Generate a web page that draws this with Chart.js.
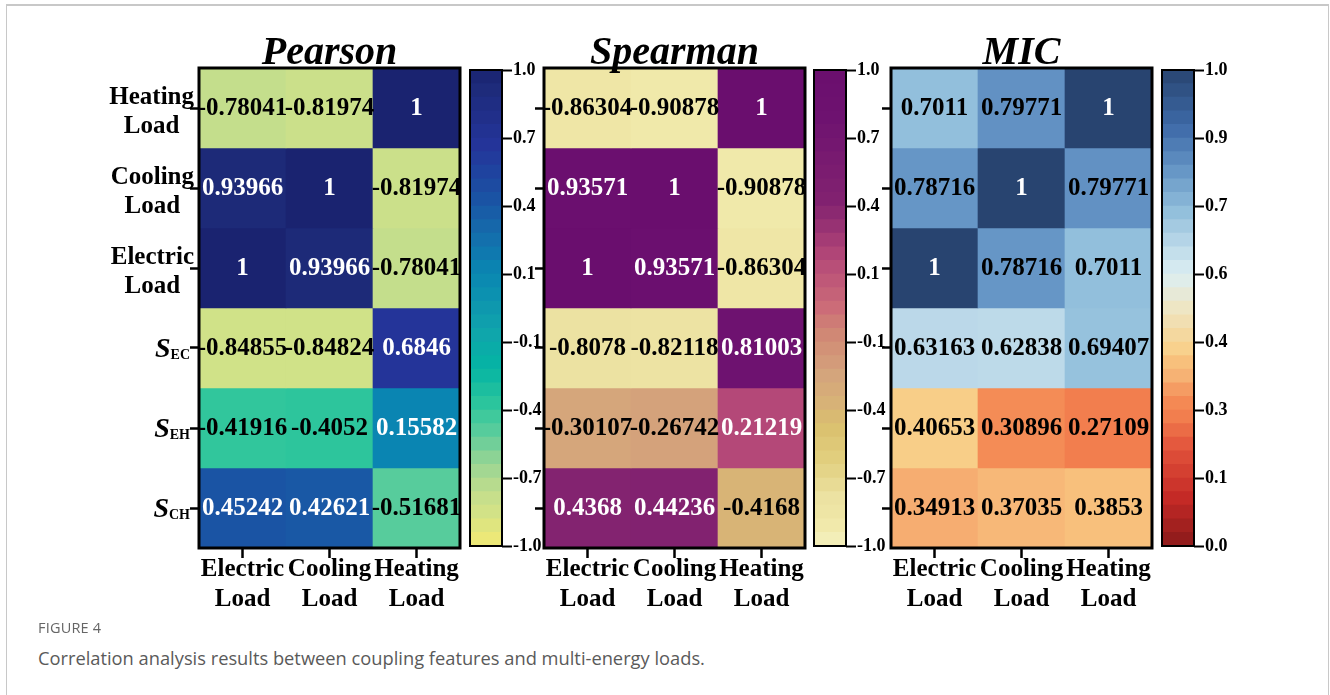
<!DOCTYPE html>
<html>
<head>
<meta charset="utf-8">
<title>Correlation analysis</title>
<script src="https://cdn.jsdelivr.net/npm/chart.js@4.4.1/dist/chart.umd.min.js"></script>
<style>
  html, body { margin: 0; padding: 0; background: #fff; }
  body { width: 1330px; height: 695px; position: relative; overflow: hidden; font-family: "Open Sans", sans-serif; }
  .frame { position: absolute; left: 6px; top: 4px; width: 1321px; height: 720px; border: 1px solid #c8c8c8; border-top-width: 2px; }
  canvas { position: absolute; top: 0; }
  .fig { position: absolute; left: 38px; top: 618px; font-size: 14.5px; color: #666; letter-spacing: 0.2px; }
  .cap { position: absolute; left: 38px; top: 645px; font-size: 18.3px; color: #5a5a5a; }
</style>
</head>
<body>
<div class="frame"></div>
<canvas id="pearsonBar" width="100" height="600" style="left:465px"></canvas>
<canvas id="spearmanBar" width="100" height="600" style="left:809px"></canvas>
<canvas id="micBar" width="100" height="600" style="left:1157px"></canvas>
<canvas id="pearson" width="465" height="620" style="left:0px"></canvas>
<canvas id="spearman" width="290" height="620" style="left:520px"></canvas>
<canvas id="mic" width="287" height="620" style="left:870px"></canvas>
<div class="fig">FIGURE 4</div>
<div class="cap">Correlation analysis results between coupling features and multi-energy loads.</div>

<script>
// Load columns and feature rows (rows listed top to bottom)
const columns = ['Electric Load', 'Cooling Load', 'Heating Load'];
const rows = ['Heating Load', 'Cooling Load', 'Electric Load', 'S_EC', 'S_EH', 'S_CH'];

// Correlation coefficients, one row per feature, columns as above
const pearson = [
  [-0.78041, -0.81974, 1],
  [0.93966, 1, -0.81974],
  [1, 0.93966, -0.78041],
  [-0.84855, -0.84824, 0.6846],
  [-0.41916, -0.4052, 0.15582],
  [0.45242, 0.42621, -0.51681]
];
const spearman = [
  [-0.86304, -0.90878, 1],
  [0.93571, 1, -0.90878],
  [1, 0.93571, -0.86304],
  [-0.8078, -0.82118, 0.81003],
  [-0.30107, -0.26742, 0.21219],
  [0.4368, 0.44236, -0.4168]
];
const mic = [
  [0.7011, 0.79771, 1],
  [0.78716, 1, 0.79771],
  [1, 0.78716, 0.7011],
  [0.63163, 0.62838, 0.69407],
  [0.40653, 0.30896, 0.27109],
  [0.34913, 0.37035, 0.3853]
];

// Colour bar tick labels (bottom to top)
const signedTicks = ['-1.0', '-0.7', '-0.4', '-0.1', '0.1', '0.4', '0.7', '1.0'];
const micTicks = ['0.0', '0.1', '0.3', '0.4', '0.6', '0.7', '0.9', '1.0'];

// Colour maps: [value, colour] anchors
const pearsonMap = [[-1, '#f2ea74'], [-0.85, '#d0e288'], [-0.78, '#c4de8c'], [-0.65, '#96d494'],
  [-0.52, '#58cc9c'], [-0.41, '#2ec69c'], [-0.25, '#04b4a4'], [-0.1, '#10a4ac'], [0.15, '#0a86b2'],
  [0.3, '#146eac'], [0.45, '#1a54a4'], [0.68, '#24349a'], [0.94, '#1d2a78'], [1, '#1a2370']];
const spearmanMap = [[-1, '#f4f0be'], [-0.9, '#f0e8a8'], [-0.8, '#ece2a2'], [-0.65, '#e2d080'],
  [-0.5, '#dac06e'], [-0.42, '#d8b476'], [-0.28, '#d4a47c'], [-0.1, '#d08674'], [0, '#cc6c78'],
  [0.21, '#b44878'], [0.44, '#822270'], [0.8, '#6e1270'], [1, '#6a0e6e']];
const micMap = [[0, '#8b1a1a'], [0.1, '#c42a26'], [0.2, '#e0503a'], [0.27, '#f27e4e'], [0.31, '#f48c56'],
  [0.35, '#f6ae72'], [0.385, '#f8c07c'], [0.41, '#f8d08a'], [0.5, '#eee6c4'], [0.57, '#dceef2'],
  [0.63, '#bcd9e9'], [0.7, '#93c0dc'], [0.79, '#6595c5'], [0.88, '#3e6aa8'], [1, '#284470']];

const SERIF = '"Liberation Serif", "Times New Roman", serif';

function hexToRgb(h) {
  return [parseInt(h.slice(1, 3), 16), parseInt(h.slice(3, 5), 16), parseInt(h.slice(5, 7), 16)];
}
function colorAt(map, v) {
  if (v <= map[0][0]) return map[0][1];
  for (let i = 1; i < map.length; i++) {
    if (v <= map[i][0]) {
      const [v0, c0] = map[i - 1], [v1, c1] = map[i];
      const t = (v - v0) / (v1 - v0);
      const a = hexToRgb(c0), b = hexToRgb(c1);
      const m = a.map((x, k) => Math.round(x + (b[k] - x) * t));
      return `rgb(${m[0]},${m[1]},${m[2]})`;
    }
  }
  return map[map.length - 1][1];
}
function isDark(col) {
  const m = col.startsWith('#') ? hexToRgb(col) : col.match(/\d+/g).map(Number);
  return 0.3 * m[0] + 0.59 * m[1] + 0.11 * m[2] < 125;
}

// Black outline round the plot area
const framePlugin = (lw) => ({
  id: 'frame',
  afterDraw(chart) {
    const { ctx, chartArea: a } = chart;
    ctx.save();
    ctx.strokeStyle = '#000';
    ctx.lineWidth = lw;
    ctx.strokeRect(a.left, a.top, a.right - a.left, a.bottom - a.top);
    ctx.restore();
  }
});

// Heading above a heat map
const titlePlugin = (text) => ({
  id: 'heading',
  afterDraw(chart) {
    const { ctx, chartArea: a } = chart;
    ctx.save();
    ctx.font = `italic bold 40px ${SERIF}`;
    ctx.fillStyle = '#000';
    ctx.textAlign = 'center';
    ctx.textBaseline = 'alphabetic';
    ctx.fillText(text, (a.left + a.right) / 2, 64);
    ctx.restore();
  }
});

// Value written in every cell
const cellTextPlugin = {
  id: 'cellText',
  afterDatasetsDraw(chart) {
    const ctx = chart.ctx;
    ctx.save();
    ctx.font = `bold 25px ${SERIF}`;
    ctx.textAlign = 'center';
    ctx.textBaseline = 'middle';
    chart.data.datasets.forEach((ds, di) => {
      chart.getDatasetMeta(di).data.forEach((bar, j) => {
        ctx.fillStyle = isDark(ds.backgroundColor[j]) ? '#fff' : '#000';
        ctx.fillText(String(ds.values[j]), bar.x, (bar.y + bar.base) / 2 + 1);
      });
    });
    ctx.restore();
  }
};

// Row names on the left, with subscripted S labels
const rowLabelPlugin = {
  id: 'rowLabels',
  afterDraw(chart) {
    const ctx = chart.ctx;
    const y = chart.scales.y;
    const right = y.left;
    ctx.save();
    ctx.fillStyle = '#000';
    ctx.textBaseline = 'alphabetic';
    rows.forEach((name, i) => {
      const yc = y.getPixelForValue(rows.length - i - 0.5);
      if (name.startsWith('S_')) {
        const sub = name.slice(2);
        ctx.font = `italic bold 28px ${SERIF}`;
        const wS = ctx.measureText('S').width;
        ctx.font = `bold 14px ${SERIF}`;
        const wSub = ctx.measureText(sub).width;
        const x0 = right - wS - wSub;
        ctx.textAlign = 'left';
        ctx.font = `italic bold 28px ${SERIF}`;
        ctx.fillText('S', x0, yc + 9);
        ctx.font = `bold 14px ${SERIF}`;
        ctx.fillText(sub, x0 + wS, yc + 11);
      } else {
        const lines = name.split(' ');
        ctx.font = `bold 25px ${SERIF}`;
        const w = Math.max(...lines.map(l => ctx.measureText(l).width));
        const cx = right + 4 - w / 2;
        ctx.textAlign = 'center';
        ctx.fillText(lines[0], cx, yc - 4);
        ctx.fillText(lines[1], cx, yc + 25);
      }
    });
    ctx.restore();
  }
};

function heatmap(id, title, matrix, cmap, padLeft, withRows) {
  const n = rows.length;
  const datasets = rows.map((r, i) => {
    const level = n - 1 - i;
    const colours = matrix[i].map(v => colorAt(cmap, v));
    return {
      label: r,
      data: columns.map(() => [level, level + 1]),
      values: matrix[i],
      backgroundColor: colours,
      borderWidth: 0,
      barPercentage: 1,
      categoryPercentage: 1
    };
  });
  const plugins = [cellTextPlugin, framePlugin(3), titlePlugin(title)];
  if (withRows) plugins.push(rowLabelPlugin);
  return new Chart(document.getElementById(id), {
    type: 'bar',
    data: { labels: columns.map(c => c.split(' ')), datasets },
    options: {
      responsive: false,
      animation: false,
      devicePixelRatio: 1,
      layout: { padding: { left: padLeft, top: 68, right: 5, bottom: 2 } },
      plugins: { legend: { display: false }, tooltip: { enabled: false }, title: { display: false } },
      scales: {
        x: {
          type: 'category',
          stacked: true,
          offset: true,
          border: { display: false },
          grid: { display: true, drawOnChartArea: false, drawTicks: true, tickLength: 10, tickWidth: 2.5, tickColor: '#000', offset: false },
          ticks: { color: '#000', padding: -3, maxRotation: 0, autoSkip: false,
                   font: { family: SERIF, size: 25, weight: 'bold', lineHeight: 1.18 } },
          afterFit: s => { s.height = 70; }
        },
        y: {
          type: 'linear',
          stacked: false,
          min: 0,
          max: n,
          border: { display: false },
          grid: { display: true, drawOnChartArea: false, drawTicks: true, tickLength: 9, tickWidth: 2.5, tickColor: '#000' },
          ticks: { display: false },
          afterBuildTicks: s => { s.ticks = rows.map((_, i) => ({ value: i + 0.5 })); },
          afterFit: s => { s.width = 9; }
        }
      }
    },
    plugins
  });
}

function colorbar(id, cmap, min, max, tickLabels) {
  const bands = 35;
  const step = (max - min) / bands;
  const datasets = [];
  for (let k = 0; k < bands; k++) {
    const lo = min + k * step;
    datasets.push({
      data: [[lo, lo + step]],
      backgroundColor: colorAt(cmap, lo + step / 2),
      borderWidth: 0,
      barPercentage: 1,
      categoryPercentage: 1
    });
  }
  const last = tickLabels.length - 1;
  return new Chart(document.getElementById(id), {
    type: 'bar',
    data: { labels: [''], datasets },
    options: {
      responsive: false,
      animation: false,
      devicePixelRatio: 1,
      layout: { padding: { left: 5, top: 70, right: 0, bottom: 54 } },
      plugins: { legend: { display: false }, tooltip: { enabled: false } },
      scales: {
        x: { display: false, stacked: true },
        y: {
          position: 'right',
          stacked: false,
          min, max,
          border: { display: false },
          grid: { display: true, drawOnChartArea: false, drawTicks: true, tickLength: 10, tickWidth: 2, tickColor: '#000' },
          ticks: { color: '#000', padding: 1, font: { family: SERIF, size: 18, weight: 'bold' },
                   callback: (v, i) => tickLabels[i] },
          afterBuildTicks: s => { s.ticks = tickLabels.map((_, k) => ({ value: min + k * (max - min) / last })); },
          afterFit: s => { s.width = 63; }
        }
      }
    },
    plugins: [framePlugin(2)]
  });
}

heatmap('pearson', 'Pearson', pearson, pearsonMap, 190, true);
colorbar('pearsonBar', pearsonMap, -1, 1, signedTicks);
heatmap('spearman', 'Spearman', spearman, spearmanMap, 15, false);
colorbar('spearmanBar', spearmanMap, -1, 1, signedTicks);
heatmap('mic', 'MIC', mic, micMap, 12, false);
colorbar('micBar', micMap, 0, 1, micTicks);
</script>
</body>
</html>
